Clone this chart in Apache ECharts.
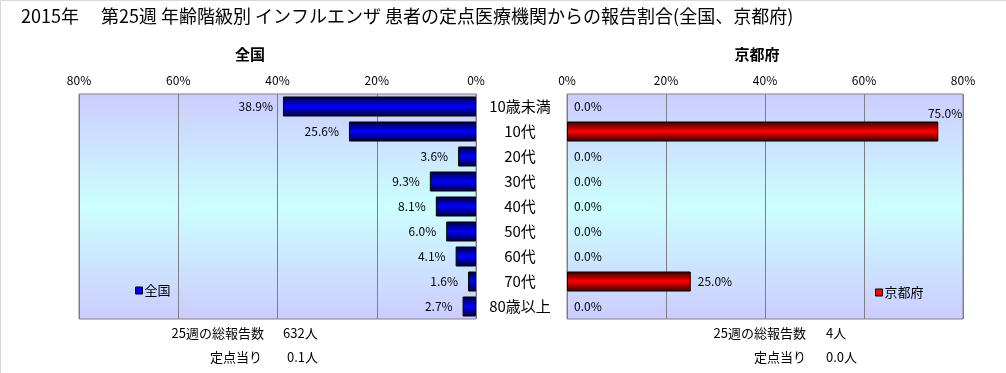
<!DOCTYPE html>
<html>
<head>
<meta charset="utf-8">
<script src="https://cdn.jsdelivr.net/npm/echarts@6/dist/echarts.min.js"></script>
<style>
html,body{margin:0;padding:0;background:#fff;}
#c{width:1006px;height:373px;}
</style>
</head>
<body>
<div id="c"></div>
<script>
const categories = ['10歳未満','10代','20代','30代','40代','50代','60代','70代','80歳以上'];
const nationalValues = [38.9, 25.6, 3.6, 9.3, 8.1, 6.0, 4.1, 1.6, 2.7];
const kyotoValues = [0.0, 75.0, 0.0, 0.0, 0.0, 0.0, 0.0, 25.0, 0.0];
const axisTicks = [0, 20, 40, 60, 80];
const titleText = '2015年\u3000 第25週 年齢階級別 インフルエンザ 患者の定点医療機関からの報告割合(全国、京都府)';
const nationalName = '全国';
const kyotoName = '京都府';
const nationalTotal = '632人';
const nationalPerPoint = '0.1人';
const kyotoTotal = '4人';
const kyotoPerPoint = '0.0人';
const weekLabel = '25週の総報告数';
const perPointLabel = '定点当り';

const FONT = '"Noto Sans CJK JP", "Noto Sans", sans-serif';

const bgGrad = {type:'linear',x:0,y:0,x2:0,y2:1,colorStops:[
  {offset:0,color:'#ccccff'},{offset:0.5,color:'#ccffff'},{offset:1,color:'#ccccff'}]};
const blueGrad = {type:'linear',x:0,y:0,x2:0,y2:1,colorStops:[
  {offset:0,color:'#000033'},{offset:0.5,color:'#0000ff'},{offset:1,color:'#000033'}]};
const redGrad = {type:'linear',x:0,y:0,x2:0,y2:1,colorStops:[
  {offset:0,color:'#330000'},{offset:0.5,color:'#ff0000'},{offset:1,color:'#330000'}]};

const chart = echarts.init(document.getElementById('c'), null, {renderer:'canvas'});

const axisLabelStyle = {fontSize:12, color:'#000', fontFamily:FONT, formatter: v => v + '%'};

function barData(values){
  return values.map(v => {
    const item = {value:v};
    if (v === 0) item.itemStyle = {borderWidth:0};
    if (v > 60) item.label = {position:'insideTopRight', offset:[31,-21]};
    return item;
  });
}

chart.setOption({
  animation:false,
  backgroundColor:'#fff',
  textStyle:{fontFamily:FONT},
  title:[
    {text:titleText, left:16, top:2, textStyle:{fontSize:18, fontWeight:'normal', color:'#000', fontFamily:FONT}},
    {text:nationalName, left:245, top:42, textAlign:'center', textStyle:{fontSize:15, fontWeight:'bold', color:'#000', fontFamily:FONT}},
    {text:kyotoName, left:752, top:42, textAlign:'center', textStyle:{fontSize:15, fontWeight:'bold', color:'#000', fontFamily:FONT}}
  ],
  legend:[
    {data:[{name:nationalName, itemStyle:{color:'#0000ff', borderColor:'#000', borderWidth:1}}],
     left:130, top:279, icon:'rect', itemWidth:7, itemHeight:7, itemGap:2,
     textStyle:{fontSize:13, color:'#000', fontFamily:FONT, padding:[0,0,0,-3]}},
    {data:[{name:kyotoName, itemStyle:{color:'#ff0000', borderColor:'#000', borderWidth:1}}],
     left:870, top:281, icon:'rect', itemWidth:7, itemHeight:7, itemGap:2,
     textStyle:{fontSize:13, color:'#000', fontFamily:FONT, padding:[0,0,0,-3]}}
  ],
  grid:[
    {left:79, top:94, width:397, height:225, show:true, backgroundColor:bgGrad, borderColor:'#808080', borderWidth:1, containLabel:false},
    {left:567, top:94, width:396, height:225, show:true, backgroundColor:bgGrad, borderColor:'#808080', borderWidth:1, containLabel:false}
  ],
  xAxis:[
    {gridIndex:0, type:'value', min:0, max:80, interval:20, inverse:true, position:'top',
     axisLine:{show:false}, axisTick:{show:false},
     splitLine:{show:true, lineStyle:{color:'#808080', width:1}},
     axisLabel:Object.assign({margin:8}, axisLabelStyle)},
    {gridIndex:1, type:'value', min:0, max:80, interval:20, position:'top',
     axisLine:{show:false}, axisTick:{show:false},
     splitLine:{show:true, lineStyle:{color:'#808080', width:1}},
     axisLabel:Object.assign({margin:8}, axisLabelStyle)}
  ],
  yAxis:[
    {gridIndex:0, type:'category', data:categories, inverse:true, position:'right',
     axisLine:{show:false}, axisTick:{show:false},
     axisLabel:{align:'center', margin:44, fontSize:15, color:'#000', fontFamily:FONT}},
    {gridIndex:1, type:'category', data:categories, inverse:true, position:'left',
     axisLine:{show:false}, axisTick:{show:false}, axisLabel:{show:false}}
  ],
  series:[
    {name:nationalName, type:'bar', xAxisIndex:0, yAxisIndex:0, data:barData(nationalValues),
     barCategoryGap:'20%',
     itemStyle:{color:blueGrad, borderColor:'#000', borderWidth:1},
     label:{show:true, position:'left', distance:10, fontSize:12, color:'#000', fontFamily:FONT,
            formatter:p => Number(p.value).toFixed(1) + '%'}},
    {name:kyotoName, type:'bar', xAxisIndex:1, yAxisIndex:1, data:barData(kyotoValues),
     barCategoryGap:'20%',
     itemStyle:{color:redGrad, borderColor:'#000', borderWidth:1},
     label:{show:true, position:'right', distance:7, fontSize:12, color:'#000', fontFamily:FONT,
            formatter:p => Number(p.value).toFixed(1) + '%'}}
  ],
  graphic:[
    {type:'rect', shape:{x:0.5,y:0.5,width:1010,height:380}, style:{fill:null, stroke:'#d9d9d9', lineWidth:1}, silent:true, z:-1},
    {type:'text', x:264, y:333, style:{text:weekLabel, textAlign:'right', textVerticalAlign:'middle', fontSize:13, fill:'#000', fontFamily:FONT}},
    {type:'text', x:283, y:333, style:{text:nationalTotal, textAlign:'left', textVerticalAlign:'middle', fontSize:13, fill:'#000', fontFamily:FONT}},
    {type:'text', x:262, y:357, style:{text:perPointLabel, textAlign:'right', textVerticalAlign:'middle', fontSize:13, fill:'#000', fontFamily:FONT}},
    {type:'text', x:287, y:357, style:{text:nationalPerPoint, textAlign:'left', textVerticalAlign:'middle', fontSize:13, fill:'#000', fontFamily:FONT}},
    {type:'text', x:806, y:333, style:{text:weekLabel, textAlign:'right', textVerticalAlign:'middle', fontSize:13, fill:'#000', fontFamily:FONT}},
    {type:'text', x:826, y:333, style:{text:kyotoTotal, textAlign:'left', textVerticalAlign:'middle', fontSize:13, fill:'#000', fontFamily:FONT}},
    {type:'text', x:806, y:357, style:{text:perPointLabel, textAlign:'right', textVerticalAlign:'middle', fontSize:13, fill:'#000', fontFamily:FONT}},
    {type:'text', x:826, y:357, style:{text:kyotoPerPoint, textAlign:'left', textVerticalAlign:'middle', fontSize:13, fill:'#000', fontFamily:FONT}}
  ]
});
</script>
</body>
</html>
